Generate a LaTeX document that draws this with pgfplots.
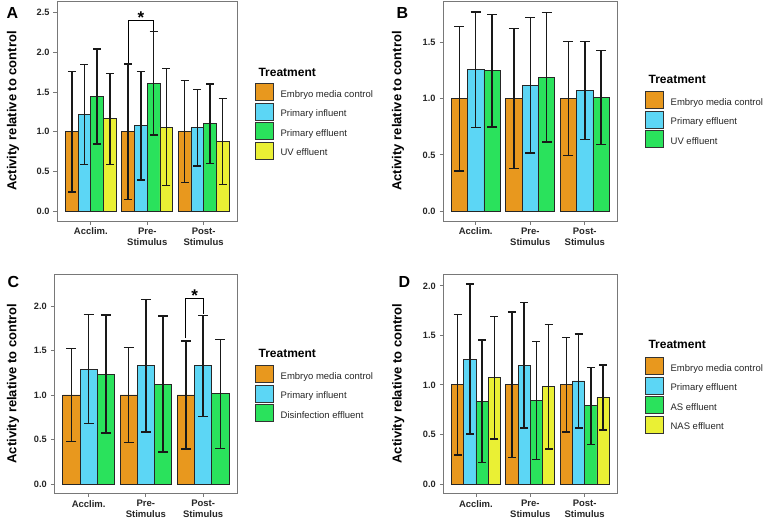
\documentclass[border=0pt]{standalone}
\usepackage{fontspec}
\setmainfont{Liberation Sans}
\usepackage{pgfplots}
\pgfplotsset{compat=1.18}
\definecolor{cOr}{RGB}{232,152,30}
\definecolor{cBl}{RGB}{92,214,245}
\definecolor{cGr}{RGB}{42,226,92}
\definecolor{cYe}{RGB}{234,240,52}
\definecolor{frameg}{RGB}{120,120,120}
\tikzset{
  ttl/.style={anchor=base west, font=\bfseries\fontsize{12}{14}\selectfont, text=black},
  sigstar/.style={anchor=base, font=\bfseries\fontsize{17}{17}\selectfont, yshift=-2.5pt},
}
\pgfplotsset{
  panel/.style={
    scale only axis, clip=false,
    xmin=0.4, xmax=3.6,
    axis line style={frameg, line width=0.8pt},
    tick style={frameg, line width=0.8pt},
    tick align=outside, major tick length=3.5pt,
    xtick pos=bottom, ytick pos=left,
    xtick={1,2,3}, xticklabels={Acclim., {Pre-\\Stimulus}, {Post-\\Stimulus}},
    xticklabel style={align=center, font=\bfseries\fontsize{9.5}{10.5}\selectfont, text=black!85},
    yticklabel style={font=\bfseries\fontsize{9.2}{10.5}\selectfont, text=black!85, xshift=-0.5pt},
    /pgf/number format/assume math mode=true,
    /pgf/number format/fixed, /pgf/number format/fixed zerofill, /pgf/number format/precision=1,
    ylabel={Activity relative to control},
    ylabel style={font=\bfseries\fontsize{13}{15}\selectfont, anchor=center},
    ybar, bar shift=0pt,
    legend cell align=left,
    every axis plot post/.append style={legend image code/.code={%
      \draw[##1, draw=black!80, line width=0.8pt] (0pt,-6pt) rectangle (18pt,11pt);
      \path[draw=none, fill=none] (0pt,0pt) -- (25pt,0pt);}},
    legend style={draw=none, fill=none, inner sep=0pt, anchor=north west, row sep=1.7pt,
      font=\fontsize{9.5}{11}\selectfont, text=black!85, nodes={inner sep=0pt}},
  },
  bsg/.style 2 args={fill=#1, draw=black!85, line width=0.8pt,
    /pgfplots/error bars/y dir=both, /pgfplots/error bars/y explicit,
    /pgfplots/error bars/error bar style={line width=1.5pt, black!90},
    /pgfplots/error bars/error mark options={rotate=90, mark size=#2, line width=1.5pt, black!90}},
  bs/.style={bsg={#1}{4pt}},
  bs3/.style={bsg={#1}{5pt}},
  br/.style={sharp plot, mark=none, black, line width=1pt, forget plot},
}
\begin{document}
\begin{tikzpicture}
\useasboundingbox (0pt,0pt) rectangle (764pt,-520pt);
% ---------------- A
\begin{axis}[panel, at={(57pt,-221pt)}, anchor=south west, width=180.5pt, height=220pt,
  ymin=-0.126, ymax=2.646, ytick={0,0.5,1,1.5,2,2.5}, bar width=0.225,
  ylabel style={at={(axis description cs:-0.244,0.5)}},
  legend style={at={(rel axis cs:1.097,0.627)}}]
\addplot[bs=cOr] coordinates {(0.6625,1.0) +- (0,0.76) (1.6625,1.0) +- (0,0.853) (2.6625,1.0) +- (0,0.642)};
\addlegendentry{Embryo media control}
\addplot[bs=cBl] coordinates {(0.8875,1.217) +- (0,0.63) (1.8875,1.074) +- (0,0.682) (2.8875,1.05) +- (0,0.48)};
\addlegendentry{Primary influent}
\addplot[bs=cGr] coordinates {(1.1125,1.442) +- (0,0.598) (2.1125,1.61) +- (0,0.651) (3.1125,1.10) +- (0,0.50)};
\addlegendentry{Primary effluent}
\addplot[bs=cYe] coordinates {(1.3375,1.162) +- (0,0.573) (2.3375,1.058) +- (0,0.738) (3.3375,0.875) +- (0,0.542)};
\addlegendentry{UV effluent}
\addplot[br] coordinates {(1.6625,1.87) (1.6625,2.40) (2.1125,2.40) (2.1125,2.27)};
\node[sigstar] at (axis cs:1.8875,2.40) {*};
\node[ttl] at (rel axis cs:1.097,0.659) {Treatment};
\end{axis}
% ---------------- B
\begin{axis}[panel, at={(443pt,-221pt)}, anchor=south west, width=174.5pt, height=220pt,
  ymin=-0.088, ymax=1.868, ytick={0,0.5,1,1.5}, bar width=0.3,
  ylabel style={at={(axis description cs:-0.258,0.5)}},
  legend style={at={(rel axis cs:1.158,0.591)}}]
\addplot[bs3=cOr] coordinates {(0.7,1.0) +- (0,0.643) (1.7,1.0) +- (0,0.623) (2.7,1.0) +- (0,0.507)};
\addlegendentry{Embryo media control}
\addplot[bs3=cBl] coordinates {(1.0,1.257) +- (0,0.513) (2.0,1.12) +- (0,0.603) (3.0,1.073) +- (0,0.437)};
\addlegendentry{Primary effluent}
\addplot[bs3=cGr] coordinates {(1.3,1.248) +- (0,0.50) (2.3,1.19) +- (0,0.577) (3.3,1.011) +- (0,0.418)};
\addlegendentry{UV effluent}
\node[ttl] at (rel axis cs:1.158,0.627) {Treatment};
\end{axis}
% ---------------- C
\begin{axis}[panel, at={(54.3pt,-493.3pt)}, anchor=south west, width=183.2pt, height=219.3pt,
  ymin=-0.105, ymax=2.36, ytick={0,0.5,1,1.5,2}, bar width=0.3,
  ylabel style={at={(axis description cs:-0.225,0.5)}},
  legend style={at={(rel axis cs:1.096,0.585)}}]
\addplot[bs3=cOr] coordinates {(0.7,1.0) +- (0,0.52) (1.7,1.0) +- (0,0.533) (2.7,1.0) +- (0,0.605)};
\addlegendentry{Embryo media control}
\addplot[bs3=cBl] coordinates {(1.0,1.29) +- (0,0.613) (2.0,1.328) +- (0,0.743) (3.0,1.328) +- (0,0.568)};
\addlegendentry{Primary influent}
\addplot[bs3=cGr] coordinates {(1.3,1.235) +- (0,0.663) (2.3,1.122) +- (0,0.765) (3.3,1.013) +- (0,0.612)};
\addlegendentry{Disinfection effluent}
\addplot[br] coordinates {(2.7,1.64) (2.7,2.08) (3.0,2.08) (3.0,1.91)};
\node[sigstar] at (axis cs:2.85,2.08) {*};
\node[ttl] at (rel axis cs:1.096,0.617) {Treatment};
\end{axis}
% ---------------- D
\begin{axis}[panel, at={(443.3pt,-493.3pt)}, anchor=south west, width=174pt, height=219.3pt,
  ymin=-0.095, ymax=2.12, ytick={0,0.5,1,1.5,2}, bar width=0.225,
  ylabel style={at={(axis description cs:-0.259,0.5)}},
  legend style={at={(rel axis cs:1.159,0.622)}}]
\addplot[bs=cOr] coordinates {(0.6625,1.0) +- (0,0.71) (1.6625,1.0) +- (0,0.735) (2.6625,1.0) +- (0,0.477)};
\addlegendentry{Embryo media control}
\addplot[bs=cBl] coordinates {(0.8875,1.26) +- (0,0.758) (1.8875,1.199) +- (0,0.633) (2.8875,1.04) +- (0,0.474)};
\addlegendentry{Primary effluent}
\addplot[bs=cGr] coordinates {(1.1125,0.835) +- (0,0.618) (2.1125,0.842) +- (0,0.596) (3.1125,0.788) +- (0,0.388)};
\addlegendentry{AS effluent}
\addplot[bs=cYe] coordinates {(1.3375,1.071) +- (0,0.62) (2.3375,0.98) +- (0,0.628) (3.3375,0.872) +- (0,0.33)};
\addlegendentry{NAS effluent}
\node[ttl] at (rel axis cs:1.159,0.661) {Treatment};
\end{axis}
% panel letters
\node[anchor=base west, font=\bfseries\fontsize{16}{16}\selectfont] at (3pt,-18pt) {A};
\node[anchor=base west, font=\bfseries\fontsize{16}{16}\selectfont] at (393pt,-18pt) {B};
\node[anchor=base west, font=\bfseries\fontsize{16}{16}\selectfont] at (4pt,-287pt) {C};
\node[anchor=base west, font=\bfseries\fontsize{16}{16}\selectfont] at (395pt,-287pt) {D};
\end{tikzpicture}
\end{document}
